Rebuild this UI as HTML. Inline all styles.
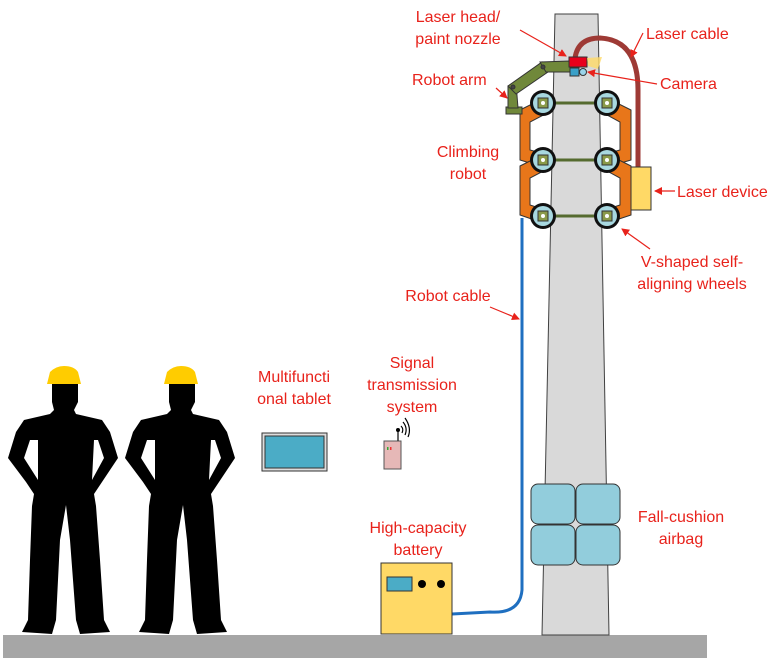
<!DOCTYPE html>
<html><head><meta charset="utf-8"><style>
html,body{margin:0;padding:0;background:#fff;}
svg{display:block;}
text{font-family:"Liberation Sans","Noto Sans CJK SC",sans-serif;font-size:16px;fill:#e8221b;}
</style></head><body>
<svg width="772" height="661" viewBox="0 0 772 661" xmlns="http://www.w3.org/2000/svg">
<defs>
<marker id="ar" markerWidth="8" markerHeight="8" refX="7" refY="4" orient="auto" markerUnits="userSpaceOnUse">
<path d="M0,0 L8,4 L0,8 z" fill="#e8221b"/></marker>
<g id="person">
<path d="M52,384 L78,384 L78,402 L74,410 L76,414 L102,420 L110,432 L118,458 L102,482 L94,494 L96,506 L100,560 L104,620 L110,632 L80,634 L76,620 L70,540 L66,505 L60,540 L56,620 L52,634 L22,632 L28,620 L30,560 L32,506 L34,494 L26,482 L8,458 L16,432 L24,420 L50,414 L54,410 L52,402 Z M30,440 L24,458 L38,480 L38,440 Z M94,440 L92,480 L104,458 L98,440 Z" fill="#000" fill-rule="evenodd"/>
<path d="M47,384 L50,372 Q56,366 64,366 Q74,366 78,372 L81,384 Z" fill="#ffcc00"/>
</g>
<g id="wheel"><circle r="13" fill="#111"/><circle r="10" fill="#a8d8e0"/><rect x="-5" y="-5" width="10" height="10" fill="#8a9a4a" stroke="#333"/><circle r="2" fill="#fff"/></g>
</defs>
<rect x="3" y="635" width="704" height="23" fill="#a6a6a6"/>
<path d="M555,14 L598,14 L609,635 L542,635 Z" fill="#d9d9d9" stroke="#404040" stroke-width="1"/>
<g fill="#92cddc" stroke="#333" stroke-width="1">
<rect x="531" y="484" width="44" height="40" rx="7"/>
<rect x="576" y="484" width="44" height="40" rx="7"/>
<rect x="531" y="525" width="44" height="40" rx="7"/>
<rect x="576" y="525" width="44" height="40" rx="7"/>
</g>
<path d="M522,218 L522,590 Q520,614 490,612 L452,614" fill="none" stroke="#1f6fc0" stroke-width="3"/>
<path d="M575,58 Q578,38 600,38 Q638,40 638,90 L638,168" fill="none" stroke="#9e3a35" stroke-width="5"/>
<rect x="631" y="167" width="20" height="43" fill="#ffd966" stroke="#333"/>
<g stroke="#556b2f" stroke-width="3">
<line x1="543" y1="103" x2="607" y2="103"/>
<line x1="543" y1="160" x2="607" y2="160"/>
<line x1="543" y1="216" x2="607" y2="216"/>
</g>
<g fill="#e8761a" stroke="#333" stroke-width="1">
<path d="M520,110 L546,97 L553,110 L530,122 L530,150 L552,156 L546,168 L520,160 Z"/>
<path d="M520,166 L546,153 L553,166 L530,178 L530,205 L552,212 L546,224 L520,215 Z"/>
<path d="M631,110 L605,97 L598,110 L620,122 L620,150 L598,156 L604,168 L631,160 Z"/>
<path d="M631,166 L605,153 L598,166 L620,178 L620,205 L598,212 L604,224 L631,215 Z"/>
</g>
<use href="#wheel" transform="translate(543,103)"/>
<use href="#wheel" transform="translate(607,103)"/>
<use href="#wheel" transform="translate(543,160)"/>
<use href="#wheel" transform="translate(607,160)"/>
<use href="#wheel" transform="translate(543,216)"/>
<use href="#wheel" transform="translate(607,216)"/>
<g fill="#70883a" stroke="#333" stroke-width="1">
<rect x="506" y="107" width="16" height="7"/>
<path d="M508,108 L508,86 L516,83 L518,108 Z"/>
<path d="M508,86 L542,62 L548,72 L516,94 Z"/>
<path d="M540,62 L570,61 L572,72 L546,72 Z"/>
<circle cx="513" cy="87" r="2" fill="#444"/><circle cx="543" cy="67" r="2" fill="#444"/>
</g>
<rect x="569" y="57" width="18" height="10" fill="#e8001b" stroke="#333"/>
<path d="M587,58 L602,57 L598,69 L588,66 Z" fill="#ffd966" opacity="0.8"/>
<rect x="570" y="68" width="9" height="8" fill="#3aa0c8" stroke="#333"/>
<circle cx="583" cy="72" r="3.5" fill="#9ad4ea" stroke="#333"/>
<use href="#person"/>
<use href="#person" transform="translate(117,0)"/>
<rect x="262" y="433" width="65" height="38" fill="#ddd" stroke="#333"/>
<rect x="265" y="436" width="59" height="32" fill="#4bacc6" stroke="#333"/>
<rect x="384" y="441" width="17" height="28" fill="#e6b8b7" stroke="#555"/>
<line x1="398" y1="441" x2="398" y2="430" stroke="#333" stroke-width="1.5"/>
<circle cx="398" cy="430" r="2" fill="#000"/>
<path d="M401,426 Q404,429 402,433 M403,422 Q408,428 405,435 M405,418 Q412,428 408,437" fill="none" stroke="#000" stroke-width="1.2"/>
<rect x="387" y="447" width="1.5" height="3" fill="#3a3"/><rect x="390" y="447" width="1.5" height="3" fill="#e33"/>
<rect x="381" y="563" width="71" height="71" fill="#ffd966" stroke="#333"/>
<rect x="387" y="577" width="25" height="14" fill="#4bacc6" stroke="#333"/>
<circle cx="422" cy="584" r="4" fill="#000"/><circle cx="441" cy="584" r="4" fill="#000"/>
<text x="458" y="22" text-anchor="middle">Laser head/</text>
<text x="458" y="44" text-anchor="middle">paint nozzle</text>
<text x="646" y="39">Laser cable</text>
<text x="660" y="89">Camera</text>
<text x="412" y="85">Robot arm</text>
<text x="468" y="157" text-anchor="middle">Climbing</text>
<text x="468" y="179" text-anchor="middle">robot</text>
<text x="677" y="197">Laser device</text>
<text x="692" y="267" text-anchor="middle">V-shaped self-</text>
<text x="692" y="289" text-anchor="middle">aligning wheels</text>
<text x="448" y="301" text-anchor="middle">Robot cable</text>
<text x="294" y="382" text-anchor="middle">Multifuncti</text>
<text x="294" y="404" text-anchor="middle">onal tablet</text>
<text x="412" y="368" text-anchor="middle">Signal</text>
<text x="412" y="390" text-anchor="middle">transmission</text>
<text x="412" y="412" text-anchor="middle">system</text>
<text x="418" y="533" text-anchor="middle">High-capacity</text>
<text x="418" y="555" text-anchor="middle">battery</text>
<text x="681" y="522" text-anchor="middle">Fall-cushion</text>
<text x="681" y="544" text-anchor="middle">airbag</text>
<g stroke="#e8221b" stroke-width="1.2" fill="none" marker-end="url(#ar)">
<line x1="520" y1="30" x2="566" y2="56"/>
<line x1="643" y1="33" x2="631" y2="57"/>
<line x1="657" y1="84" x2="588" y2="72"/>
<line x1="496" y1="88" x2="507" y2="98"/>
<line x1="675" y1="191" x2="655" y2="191"/>
<line x1="650" y1="249" x2="622" y2="229"/>
<line x1="490" y1="307" x2="519" y2="319"/>
</g>
</svg>
</body></html>
